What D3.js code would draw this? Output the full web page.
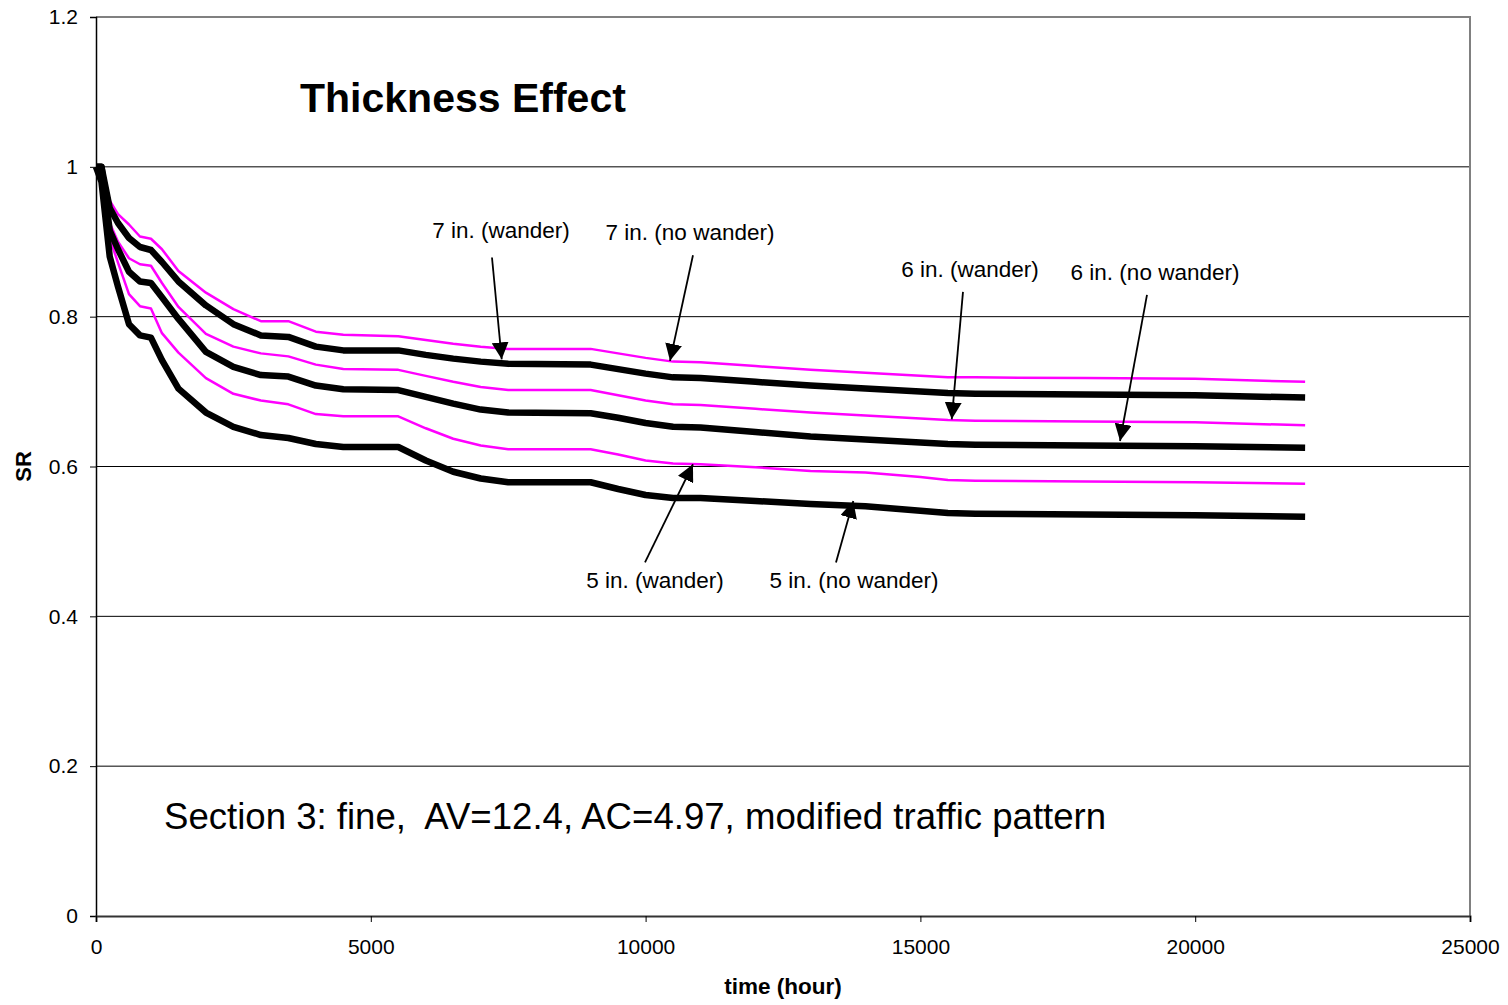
<!DOCTYPE html>
<html>
<head>
<meta charset="utf-8">
<script src="https://cdn.jsdelivr.net/npm/d3@7"></script>
<style>
  html, body { margin: 0; padding: 0; background: #fff; }
  svg { display: block; font-family: "Liberation Sans", Arial, sans-serif; }
</style>
</head>
<body>
<svg id="chart" width="1508" height="1005"></svg>
<script>
// Time grid (hours) shared by all series
const timeHours = [0, 100, 250, 400, 600, 800, 1000, 1200, 1500, 2000, 2500, 3000, 3500, 4000, 4500,
  5500, 6000, 6500, 7000, 7500, 9000, 9500, 10000, 10500, 11000, 12000, 13000, 14000, 15000,
  15500, 16000, 18000, 20000, 22000];

// SR values per thickness / wander case
const sr7Wander = [1.0, 1.0, 0.955, 0.937, 0.923, 0.907, 0.904, 0.890, 0.861, 0.832, 0.810, 0.794, 0.794, 0.780, 0.776,
  0.774, 0.769, 0.764, 0.760, 0.757, 0.757, 0.751, 0.745, 0.740, 0.739, 0.734, 0.729, 0.725, 0.721,
  0.719, 0.719, 0.718, 0.717, 0.713];
const sr7NoWander = [1.0, 1.0, 0.945, 0.925, 0.905, 0.893, 0.889, 0.873, 0.847, 0.815, 0.790, 0.775, 0.773, 0.760, 0.755,
  0.755, 0.749, 0.744, 0.740, 0.737, 0.736, 0.730, 0.724, 0.719, 0.718, 0.713, 0.708, 0.704, 0.700,
  0.698, 0.697, 0.696, 0.695, 0.692];
const sr6Wander = [1.0, 1.0, 0.925, 0.900, 0.878, 0.870, 0.868, 0.845, 0.813, 0.777, 0.760, 0.751, 0.747, 0.736, 0.730,
  0.729, 0.721, 0.713, 0.706, 0.702, 0.702, 0.695, 0.688, 0.683, 0.682, 0.677, 0.672, 0.668, 0.664,
  0.662, 0.661, 0.660, 0.659, 0.655];
const sr6NoWander = [1.0, 1.0, 0.915, 0.890, 0.860, 0.847, 0.845, 0.826, 0.797, 0.753, 0.733, 0.722, 0.720, 0.708, 0.703,
  0.702, 0.693, 0.684, 0.676, 0.672, 0.671, 0.665, 0.658, 0.653, 0.652, 0.646, 0.640, 0.636, 0.632,
  0.630, 0.629, 0.628, 0.627, 0.625];
const sr5Wander = [1.0, 1.0, 0.905, 0.872, 0.830, 0.814, 0.811, 0.778, 0.752, 0.718, 0.697, 0.688, 0.683, 0.670, 0.667,
  0.667, 0.651, 0.637, 0.628, 0.623, 0.623, 0.616, 0.608, 0.604, 0.603, 0.599, 0.594, 0.592, 0.586,
  0.582, 0.581, 0.580, 0.579, 0.577];
const sr5NoWander = [1.0, 0.98, 0.880, 0.840, 0.790, 0.775, 0.772, 0.742, 0.704, 0.672, 0.653, 0.642, 0.638, 0.630, 0.626,
  0.626, 0.608, 0.593, 0.584, 0.579, 0.579, 0.570, 0.562, 0.558, 0.558, 0.554, 0.550, 0.547, 0.541,
  0.538, 0.537, 0.536, 0.535, 0.533];

// Tick values
const xTicks = [0, 5000, 10000, 15000, 20000, 25000];
const yTicks = [0, 0.2, 0.4, 0.6, 0.8, 1, 1.2];
const yTickLabels = ["0", "0.2", "0.4", "0.6", "0.8", "1", "1.2"];

// Callout labels: text, label anchor (time, SR), arrow tail and tip (time, SR)
const calloutText = ["7 in. (wander)", "7 in. (no wander)", "6 in. (wander)", "6 in. (no wander)", "5 in. (wander)", "5 in. (no wander)"];
const calloutLabelAt = [[7369, 0.905], [10808, 0.902], [15903, 0.853], [19269, 0.849], [10171, 0.438], [13792, 0.438]];
const calloutTail = [[7205, 0.879], [10862, 0.882], [15775, 0.833], [19123, 0.829], [9989, 0.472], [13464, 0.472]];
const calloutTip = [[7382, 0.743], [10444, 0.741], [15570, 0.663], [18632, 0.634], [10862, 0.603], [13779, 0.554]];

const svg = d3.select("#chart");
const margin = { left: 96, right: 38, top: 17, bottom: 89 };
const W = 1508, H = 1005;

const x = d3.scaleLinear().domain([0, 25000]).range([margin.left, W - margin.right]);
const y = d3.scaleLinear().domain([0, 1.2]).range([H - margin.bottom, margin.top]);

// Horizontal grid lines
svg.append("g")
  .selectAll("line")
  .data(yTicks.filter(v => v > 0 && v < 1.2))
  .join("line")
  .attr("x1", x(0)).attr("x2", x(25000))
  .attr("y1", d => y(d)).attr("y2", d => y(d))
  .attr("stroke", "#000").attr("stroke-width", 1);

// Plot frame: grey top and right edges
svg.append("path")
  .attr("d", `M${x(0)},${y(1.2)}H${x(25000)}V${y(0)}`)
  .attr("fill", "none").attr("stroke", "#808080").attr("stroke-width", 2);

// Y axis
const yAxis = svg.append("g")
  .attr("transform", `translate(${x(0)},0)`)
  .call(d3.axisLeft(y).tickValues(yTicks).tickFormat((d, i) => yTickLabels[i]).tickSize(6).tickPadding(12));
yAxis.select(".domain").attr("stroke", "#000").attr("stroke-width", 1.5);
yAxis.selectAll(".tick line").attr("stroke", "#000");
yAxis.selectAll("text").attr("font-size", 21).attr("fill", "#000").attr("font-family", "Liberation Sans, Arial, sans-serif");

// X axis
const xAxis = svg.append("g")
  .attr("transform", `translate(0,${y(0)})`)
  .call(d3.axisBottom(x).tickValues(xTicks).tickFormat(d3.format("d")).tickSize(6).tickPadding(17));
xAxis.select(".domain").attr("stroke", "#333").attr("stroke-width", 2);
xAxis.selectAll(".tick line").attr("stroke", "#000");
xAxis.selectAll("text").attr("font-size", 21).attr("fill", "#000").attr("font-family", "Liberation Sans, Arial, sans-serif");

// Axis titles
svg.append("text")
  .attr("x", 783).attr("y", 994)
  .attr("text-anchor", "middle").attr("font-size", 22.5).attr("font-weight", "bold")
  .text("time (hour)");
svg.append("text")
  .attr("transform", `translate(31,${y(0.6)}) rotate(-90)`)
  .attr("text-anchor", "middle").attr("font-size", 22).attr("font-weight", "bold")
  .text("SR");

// Series lines (magenta = wander, black = no wander)
const series = [
  { values: sr7Wander, color: "#ff00ff", width: 2.5 },
  { values: sr6Wander, color: "#ff00ff", width: 2.5 },
  { values: sr5Wander, color: "#ff00ff", width: 2.5 },
  { values: sr7NoWander, color: "#000", width: 6.5 },
  { values: sr6NoWander, color: "#000", width: 6.5 },
  { values: sr5NoWander, color: "#000", width: 6.5 }
];
const line = d3.line().x(d => x(d[0])).y(d => y(d[1])).curve(d3.curveLinear);
svg.append("g")
  .selectAll("path")
  .data(series)
  .join("path")
  .attr("d", s => line(timeHours.map((t, i) => [t, s.values[i]])))
  .attr("fill", "none")
  .attr("stroke", s => s.color)
  .attr("stroke-width", s => s.width)
  .attr("stroke-linejoin", "round");

// Chart title and description
svg.append("text")
  .attr("x", 300).attr("y", 112)
  .attr("font-size", 41).attr("font-weight", "bold")
  .text("Thickness Effect");
svg.append("text")
  .attr("x", 164).attr("y", 829)
  .attr("font-size", 36.6)
  .style("white-space", "pre")
  .text("Section 3: fine,  AV=12.4, AC=4.97, modified traffic pattern");

// Callouts with arrows
svg.append("defs").append("marker")
  .attr("id", "arrowhead")
  .attr("viewBox", "0 0 10 10")
  .attr("refX", 10).attr("refY", 5)
  .attr("markerUnits", "userSpaceOnUse")
  .attr("markerWidth", 17).attr("markerHeight", 17)
  .attr("orient", "auto")
  .append("path").attr("d", "M0,0L10,5L0,10Z").attr("fill", "#000");

const callouts = svg.append("g");
calloutText.forEach((txt, i) => {
  callouts.append("text")
    .attr("x", x(calloutLabelAt[i][0])).attr("y", y(calloutLabelAt[i][1]))
    .attr("text-anchor", "middle").attr("font-size", 22.5)
    .text(txt);
  callouts.append("line")
    .attr("x1", x(calloutTail[i][0])).attr("y1", y(calloutTail[i][1]))
    .attr("x2", x(calloutTip[i][0])).attr("y2", y(calloutTip[i][1]))
    .attr("stroke", "#000").attr("stroke-width", 1.8)
    .attr("marker-end", "url(#arrowhead)");
});
</script>
</body>
</html>
